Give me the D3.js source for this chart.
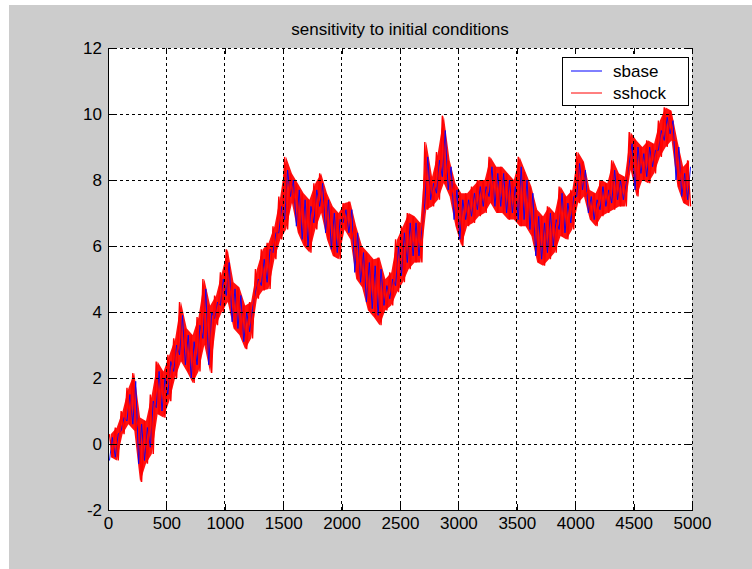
<!DOCTYPE html>
<html>
<head>
<meta charset="utf-8">
<script src="https://cdn.jsdelivr.net/npm/d3@7"></script>
<style>
  body { margin: 0; background: #fff; }
  svg { display: block; }
  text { font-family: "Liberation Sans", Arial, sans-serif; }
</style>
</head>
<body>
<div id="chart"></div>
<script>
// values: upper / lower extent of each 50-step window
const binSize = 50;
const xTicks = [0, 500, 1000, 1500, 2000, 2500, 3000, 3500, 4000, 4500, 5000];
const yTicks = [-2, 0, 2, 4, 6, 8, 10, 12];
const seriesNames = ["sbase", "sshock"];

const sshockHi = [0.3, 0.5, 1.0, 1.7, 2.15, 0.8, 0.7, 1.5, 2.5, 2.2,
  2.7, 3.2, 4.3, 3.5, 3.3, 3.85, 5.0, 4.2, 4.5, 5.2,
  5.9, 4.9, 4.75, 4.2, 4.3, 5.3, 5.9, 6.1, 6.6, 7.5,
  8.7, 8.2, 7.9, 7.6, 7.4, 7.9, 8.2, 7.6, 7.2, 7.0,
  7.3, 7.35, 6.6, 6.0, 5.8, 5.6, 5.65, 5.0, 5.2, 6.2,
  6.6, 7.0, 6.9, 6.7, 9.15, 8.1, 8.85, 9.95, 8.6, 7.9,
  7.6, 7.6, 7.8, 8.0, 8.0, 8.7, 8.4, 8.4, 8.2, 8.0,
  8.7, 8.25, 7.8, 7.1, 6.9, 7.2, 7.0, 7.8, 7.5, 7.7,
  8.85, 8.55, 7.7, 7.6, 8.0, 7.9, 8.6, 8.2, 8.1, 9.45,
  9.2, 9.0, 9.2, 9.1, 9.8, 10.2, 10.1, 9.2, 8.4, 8.6];
const sshockLo = [-0.4, -0.5, 0.3, 0.6, 0.4, -1.15, -0.6, -0.3, 0.9, 0.8,
  1.3, 2.0, 2.5, 2.2, 1.85, 2.2, 3.0, 2.15, 3.6, 4.0,
  4.3, 3.5, 3.3, 2.87, 3.2, 4.4, 4.65, 4.7, 5.6, 6.2,
  6.5, 7.3, 6.4, 6.0, 5.8, 6.5, 7.0, 6.2, 5.7, 5.6,
  6.5, 6.2, 5.0, 4.75, 4.05, 3.85, 3.6, 4.05, 4.2, 4.6,
  4.9, 5.3, 5.5, 5.5, 7.1, 7.2, 7.4, 7.9, 7.5, 6.6,
  6.0, 6.6, 6.7, 6.9, 7.0, 7.3, 7.0, 7.0, 6.8, 6.8,
  6.6, 6.6, 6.3, 5.5, 5.4, 5.6, 5.8, 6.3, 6.2, 6.5,
  7.3, 7.5, 6.8, 6.6, 6.9, 7.0, 7.1, 7.2, 7.2, 8.3,
  7.5, 8.0, 7.9, 8.2, 8.7, 9.0, 9.2, 7.8, 7.3, 7.2];

const sbaseHi = [0.2, 0.3, 0.8, 1.5, 1.9, 0.6, 0.5, 1.3, 2.2, 2.0,
  2.5, 3.0, 3.9, 3.3, 3.1, 3.6, 4.7, 4.0, 4.3, 5.0,
  5.5, 4.7, 4.5, 4.0, 4.1, 5.0, 5.6, 5.9, 6.4, 7.2,
  8.3, 8.0, 7.7, 7.4, 7.2, 7.7, 7.9, 7.4, 7.0, 6.8,
  7.1, 7.1, 6.4, 5.8, 5.5, 5.4, 5.3, 4.8, 5.0, 6.0,
  6.4, 6.7, 6.7, 6.5, 8.7, 7.9, 8.6, 9.5, 8.4, 7.7,
  7.4, 7.4, 7.6, 7.8, 7.8, 8.4, 8.2, 8.2, 8.0, 7.8,
  8.4, 8.0, 7.6, 6.9, 6.7, 7.0, 6.8, 7.6, 7.3, 7.5,
  8.5, 8.3, 7.5, 7.4, 7.8, 7.7, 8.3, 8.0, 7.9, 9.1,
  9.0, 8.8, 9.0, 8.9, 9.5, 9.9, 9.8, 9.0, 8.2, 8.4];
const sbaseLo = [-0.5, -0.4, 0.4, 0.7, 0.6, -0.6, -0.5, -0.1, 1.1, 1.0,
  1.5, 2.2, 2.7, 2.4, 2.0, 2.4, 3.2, 2.4, 3.8, 4.2,
  4.5, 3.7, 3.5, 3.1, 3.4, 4.6, 4.8, 4.9, 5.8, 6.4,
  6.8, 7.5, 6.6, 6.2, 6.0, 6.7, 7.2, 6.4, 5.9, 5.8,
  6.7, 6.4, 5.2, 4.9, 4.3, 4.1, 3.9, 4.2, 4.4, 4.8,
  5.1, 5.5, 5.7, 5.7, 7.3, 7.4, 7.6, 8.1, 7.7, 6.8,
  6.2, 6.8, 6.9, 7.1, 7.2, 7.5, 7.2, 7.2, 7.0, 7.0,
  6.8, 6.8, 6.5, 5.7, 5.6, 5.8, 6.0, 6.5, 6.4, 6.7,
  7.5, 7.7, 7.0, 6.8, 7.1, 7.2, 7.3, 7.4, 7.4, 8.5,
  7.7, 8.2, 8.1, 8.4, 8.9, 9.2, 9.4, 8.0, 7.5, 7.4];

document.addEventListener('DOMContentLoaded', () => {
    const width = 752;
    const height = 569;
    const margin = { top: 48, right: 60, bottom: 59, left: 108 };

    const svg = d3.select("#chart").append("svg")
        .attr("width", width)
        .attr("height", height);

    // figure background
    svg.append("rect")
        .attr("x", 9).attr("y", 5)
        .attr("width", width - 9).attr("height", height - 5)
        .attr("fill", "#cccccc");

    const x = d3.scaleLinear()
        .domain([0, 5000])
        .range([margin.left, width - margin.right]);

    const y = d3.scaleLinear()
        .domain([-2, 12])
        .range([height - margin.bottom, margin.top]);

    // axes background
    svg.append("rect")
        .attr("x", x(0)).attr("y", y(12))
        .attr("width", x(5000) - x(0)).attr("height", y(-2) - y(12))
        .attr("fill", "#fff");

    // zigzag points from the hi/lo windows
    function toPoints(hi, lo, hiFirst) {
        const pts = [];
        hi.forEach((h, i) => {
            const t0 = i * binSize;
            if (hiFirst) {
                pts.push([t0 + binSize * 0.25, h]);
                pts.push([t0 + binSize * 0.75, lo[i]]);
            } else {
                pts.push([t0 + binSize * 0.25, lo[i]]);
                pts.push([t0 + binSize * 0.75, h]);
            }
        });
        return pts;
    }

    const line = d3.line()
        .x(d => x(d[0]))
        .y(d => y(d[1]));

    // dense core of the shocked series, between the window extremes
    const band = d3.area()
        .x((d, i) => x(i * binSize + binSize / 2))
        .y0((d, i) => y(sshockLo[i]))
        .y1(d => y(d));

    svg.append("clipPath").attr("id", "plot-clip")
        .append("rect")
        .attr("x", x(0)).attr("y", y(12))
        .attr("width", x(5000) - x(0)).attr("height", y(-2) - y(12));

    const plot = svg.append("g").attr("clip-path", "url(#plot-clip)");

    plot.append("path")
        .datum(sshockHi)
        .attr("fill", "#ff1010")
        .attr("d", band);

    plot.append("path")
        .datum(toPoints(sbaseHi, sbaseLo, false))
        .attr("fill", "none")
        .attr("stroke", "#0000ff")
        .attr("stroke-width", 0.9)
        .attr("d", line);

    plot.append("path")
        .datum(toPoints(sshockHi, sshockLo, true))
        .attr("fill", "none")
        .attr("stroke", "#ff0000")
        .attr("stroke-width", 1.4)
        .attr("d", line);

    // dotted grid
    const grid = svg.append("g")
        .attr("stroke", "#000")
        .attr("stroke-dasharray", "3,3")
        .attr("shape-rendering", "crispEdges");

    grid.selectAll(".vgrid")
        .data(xTicks.slice(1))
        .join("line")
        .attr("x1", d => x(d)).attr("x2", d => x(d))
        .attr("y1", y(-2)).attr("y2", y(12));

    grid.selectAll(".hgrid")
        .data(yTicks.slice(1))
        .join("line")
        .attr("x1", x(0)).attr("x2", x(5000))
        .attr("y1", d => y(d)).attr("y2", d => y(d));

    const fontSize = 17;
    const plain = d => String(d).replace("\u2212", "-");

    const xAxis = g => g
        .attr("transform", `translate(0,${y(-2)})`)
        .call(d3.axisBottom(x).tickValues(xTicks).tickFormat(plain)
            .tickSize(-6).tickSizeOuter(0).tickPadding(7));

    const yAxis = g => g
        .attr("transform", `translate(${x(0)},0)`)
        .call(d3.axisLeft(y).tickValues(yTicks).tickFormat(plain)
            .tickSize(-6).tickSizeOuter(0).tickPadding(6));

    const topAxis = g => g
        .attr("transform", `translate(0,${y(12)})`)
        .call(d3.axisTop(x).tickValues(xTicks).tickSize(-6).tickFormat(""))
        .call(g => g.select(".domain").remove());

    const rightAxis = g => g
        .attr("transform", `translate(${x(5000)},0)`)
        .call(d3.axisRight(y).tickValues(yTicks).tickSize(-6).tickFormat(""))
        .call(g => g.select(".domain").remove());

    [xAxis, yAxis, topAxis, rightAxis].forEach(ax => {
        svg.append("g")
            .call(ax)
            .attr("shape-rendering", "crispEdges")
            .call(g => g.selectAll("text")
                .attr("font-size", fontSize)
                .attr("font-family", "Liberation Sans, Arial, sans-serif")
                .attr("fill", "#000"));
    });

    // title
    svg.append("text")
        .attr("x", (x(0) + x(5000)) / 2)
        .attr("y", 35)
        .attr("text-anchor", "middle")
        .attr("font-size", fontSize)
        .attr("fill", "#000")
        .text("sensitivity to initial conditions");

    // legend
    const legend = svg.append("g");
    legend.append("rect")
        .attr("x", 562).attr("y", 57)
        .attr("width", 126).attr("height", 48)
        .attr("fill", "#fff")
        .attr("stroke", "#000")
        .attr("shape-rendering", "crispEdges");

    const colors = ["#0000ff", "#ff0000"];
    seriesNames.forEach((name, i) => {
        const ly = 71 + i * 22;
        legend.append("line")
            .attr("x1", 571).attr("x2", 602)
            .attr("y1", ly).attr("y2", ly)
            .attr("stroke", colors[i]);
        legend.append("text")
            .attr("x", 613).attr("y", ly + 6)
            .attr("font-size", fontSize)
            .attr("fill", "#000")
            .text(name);
    });
});
</script>
</body>
</html>
